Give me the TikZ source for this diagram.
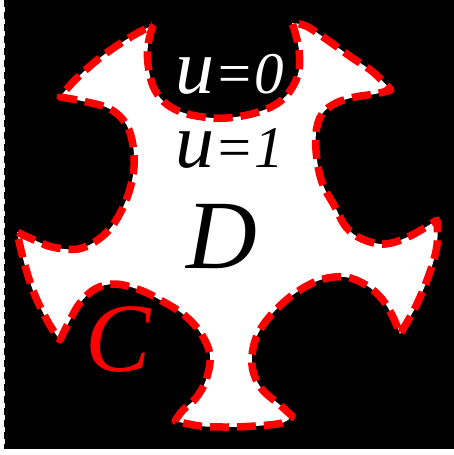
\documentclass[tikz,border=0pt]{standalone}
\usepackage{fontspec}
\setmainfont{Liberation Serif}
\begin{document}
\begin{tikzpicture}[x=1pt,y=-1pt,
  bnd/.style={fill=white, draw=red, line width=7.5pt, dash pattern=on 19pt off 8pt, line join=round},
  frame/.style={draw=white, line width=1pt, dash pattern=on 5pt off 7pt},
  lbl/.style={inner sep=0pt, anchor=base west}]
\useasboundingbox (0,0) rectangle (454,455);
\clip (0,0) rectangle (454,455);
\fill[black] (4,-5) rectangle (460,449);
\draw[frame] (4,-5) rectangle (460,449);
\filldraw[bnd]
  plot[smooth,tension=0.6] coordinates {(153,25) (148,45) (148,64) (153,86) (164,102) (181,112) (203,117) (227,118) (255,113) (278,103) (292,88) (299,70) (299,50) (295,32) (292,23)}
  -- plot[smooth,tension=0.6] coordinates {(292,23) (306,26) (326,39) (351,57) (373,72) (391,90)}
  -- plot[smooth,tension=0.6] coordinates {(391,90) (375,94) (355,97) (336,103) (322,114) (316,133) (317,160) (323,185) (334,205) (346,227) (362,239) (385,244) (410,236) (437,220)}
  -- plot[smooth,tension=0.6] coordinates {(437,220) (437,245) (430,272) (416,306) (400,334)}
  -- plot[smooth,tension=0.6] coordinates {(400,334) (393,317) (382,299) (366,285) (345,277) (320,280) (294,294) (271,315) (256,338) (252,365) (261,388) (280,405) (292,416)}
  -- plot[smooth,tension=0.6] coordinates {(292,416) (282,423) (255,426) (227,427) (200,426) (175,421)}
  -- plot[smooth,tension=0.6] coordinates {(175,421) (183,410) (196,398) (206,380) (210,355) (200,332) (183,314) (162,301) (140,290) (115,284) (95,289) (80,303) (70,320) (60,340)}
  -- plot[smooth,tension=0.6] coordinates {(60,340) (48,322) (34,293) (24,262) (17,232)}
  -- plot[smooth,tension=0.6] coordinates {(17,232) (32,239) (52,247) (78,249) (99,239) (115,222) (128,195) (134,167) (132,140) (124,121) (108,108) (82,101) (60,97)}
  -- plot[smooth,tension=0.6] coordinates {(60,97) (76,79) (101,57) (129,38) (153,25)}
  -- cycle;
\node[lbl, text=white] (u0) at (175,93) {\itshape{\fontsize{78}{78}\selectfont u}{\fontsize{59}{59}\selectfont =0}};
\node[lbl, text=black] (u1) at (175,167) {\itshape{\fontsize{78}{78}\selectfont u}{\fontsize{59}{59}\selectfont =1}};
\node[inner sep=0pt, anchor=base, text=black] (D) at (222,268) {\fontsize{98}{98}\selectfont\itshape D};
\node[inner sep=0pt, anchor=base, text=red] (C) at (118,371) {\fontsize{98}{98}\selectfont\itshape C};
\end{tikzpicture}
\end{document}
